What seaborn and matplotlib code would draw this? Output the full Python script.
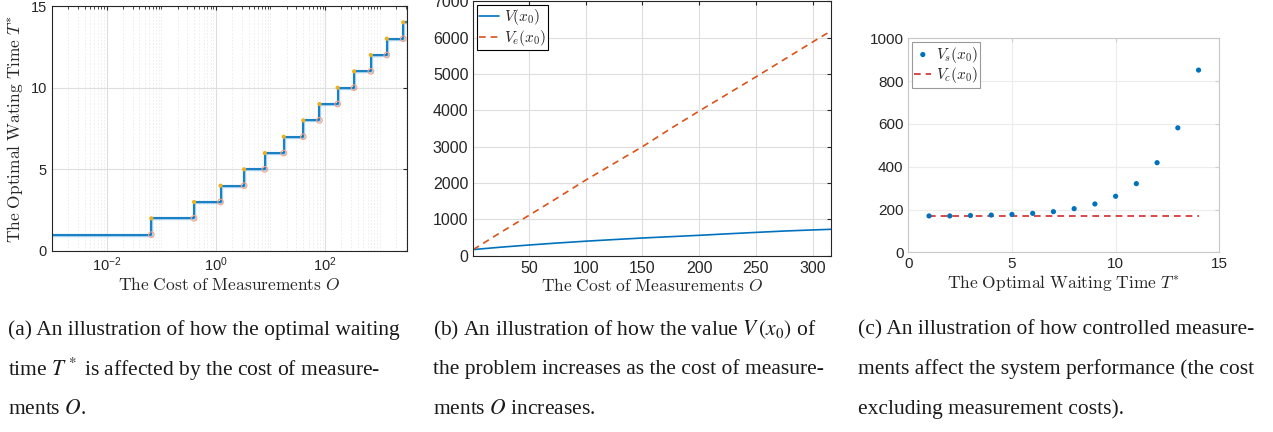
import matplotlib
matplotlib.use("Agg")
import numpy as np
import pandas as pd
import matplotlib.pyplot as plt
import seaborn as sns
from matplotlib.ticker import LogLocator, NullFormatter, FixedLocator

# (a) cost values where the optimal waiting time jumps up by one step
jump_cost = [0.066, 0.40, 1.22, 3.3, 7.9, 17.5, 40, 79, 170, 340, 690, 1350, 2700]
wait_time = [1, 2, 3, 4, 5, 6, 7, 8, 9, 10, 11, 12, 13, 14]

# (b) value of the problem vs cost of measurements
cost_b = [1, 25, 50, 75, 100, 125, 150, 175, 200, 225, 250, 275, 300, 316]
value_v = [170, 235, 295, 350, 400, 445, 488, 525, 562, 603, 642, 680, 710, 727]
value_ve = [170, 640, 1110, 1590, 2080, 2540, 3000, 3500, 3980, 4450, 4920, 5400, 5880, 6180]

# (c) performance vs optimal waiting time
t_star = [1, 2, 3, 4, 5, 6, 7, 8, 9, 10, 11, 12, 13, 14]
value_vs = [170, 170, 172, 174, 177, 182, 190, 204, 226, 262, 321, 419, 582, 852]
value_vc = [168] * 14

sns.set_style("white")
plt.rcParams["font.family"] = ["Liberation Sans", "DejaVu Sans"]
plt.rcParams["mathtext.fontset"] = "cm"
plt.rcParams["xtick.direction"] = "in"
plt.rcParams["ytick.direction"] = "in"
plt.rcParams["xtick.top"] = True
plt.rcParams["ytick.right"] = True

BLUE = "#0072BD"
ORANGE = "#D95319"
GOLD = "#EDB120"
LAB_FS = 12.5

fig = plt.figure(figsize=(12.73, 4.32), dpi=100)
ax_a = fig.add_axes([0.0408, 0.419, 0.2789, 0.567])
ax_b = fig.add_axes([0.3718, 0.408, 0.2808, 0.589])
ax_c = fig.add_axes([0.7135, 0.416, 0.2443, 0.495])

# ---- (a) stairs on log axis
lo, hi = 1e-3, 10 ** 3.5
stairs = pd.DataFrame({"O": [lo] + jump_cost + [hi],
                       "T": wait_time + [wait_time[-1]]})
sns.lineplot(data=stairs, x="O", y="T", ax=ax_a, color="#5aa9e0", lw=2.4,
             drawstyle="steps-post", estimator=None, sort=False, alpha=0.55)
sns.lineplot(data=stairs, x="O", y="T", ax=ax_a, color=BLUE, lw=1.2,
             drawstyle="steps-post", estimator=None, sort=False)
tops = pd.DataFrame({"O": jump_cost, "T": wait_time[1:]})
bots = pd.DataFrame({"O": jump_cost, "T": wait_time[:-1]})
sns.scatterplot(data=bots, x="O", y="T", ax=ax_a, marker="o", s=16,
                facecolor="none", edgecolor="#f5a184", linewidth=0.8, zorder=4)
sns.scatterplot(data=tops, x="O", y="T", ax=ax_a, marker="o", s=9,
                color=GOLD, edgecolor="none", zorder=5)
ax_a.set_xscale("log")
ax_a.set_xlim(lo, hi)
ax_a.set_ylim(0, 15)
ax_a.xaxis.set_major_locator(FixedLocator([1e-2, 1, 1e2]))
ax_a.xaxis.set_minor_locator(LogLocator(base=10, subs=np.arange(1, 10), numticks=100))
ax_a.xaxis.set_minor_formatter(NullFormatter())
ax_a.set_yticks([0, 5, 10, 15])
ax_a.grid(which="major", color="#dedede", lw=0.8)
ax_a.grid(which="minor", axis="x", color="#ebebeb", lw=0.6, ls=(0, (2, 2)))
ax_a.set_xlabel(r"$\mathrm{The\ Cost\ of\ Measurements}\ O$", fontsize=LAB_FS, labelpad=1)
ax_a.set_ylabel(r"$\mathrm{The\ Optimal\ Wating\ Time}\ T^{*}$", fontsize=LAB_FS, labelpad=4)

# ---- (b) value lines
dfb = pd.DataFrame({"O": cost_b, "V": value_v, "Ve": value_ve})
sns.lineplot(data=dfb, x="O", y="V", ax=ax_b, color=BLUE, lw=1.2, label=r"$V(x_0)$")
sns.lineplot(data=dfb, x="O", y="Ve", ax=ax_b, color=ORANGE, lw=1.2,
             ls=(0, (4, 3)), label=r"$V_e(x_0)$")
ax_b.set_xlim(cost_b[0], cost_b[-1])
ax_b.set_ylim(0, 7000)
ax_b.set_xticks([50, 100, 150, 200, 250, 300])
ax_b.set_yticks(range(0, 7001, 1000))
ax_b.grid(color="#dedede", lw=0.8)
ax_b.set_xlabel(r"$\mathrm{The\ Cost\ of\ Measurements}\ O$", fontsize=LAB_FS, labelpad=1)
ax_b.set_ylabel("")
leg = ax_b.legend(loc="upper left", fontsize=11, frameon=True, fancybox=False,
                  edgecolor="black", framealpha=1, borderaxespad=0.25,
                  handlelength=1.3, borderpad=0.15, labelspacing=0.05, handletextpad=0.3)
leg.get_frame().set_linewidth(0.8)

# ---- (c) scatter + constant line
dfc = pd.DataFrame({"T": t_star, "Vs": value_vs, "Vc": value_vc})
sns.scatterplot(data=dfc, x="T", y="Vs", ax=ax_c, color=BLUE, s=14,
                edgecolor="none", label=r"$V_s(x_0)$", zorder=4)
sns.lineplot(data=dfc, x="T", y="Vc", ax=ax_c, color="#d42a2a", lw=1.2,
             ls=(0, (4, 3)), label=r"$V_c(x_0)$")
ax_c.set_xlim(0, 15)
ax_c.set_ylim(0, 1000)
ax_c.set_xticks([0, 5, 10, 15])
ax_c.set_yticks(range(0, 1001, 200))
ax_c.grid(color="#ececec", lw=0.8)
ax_c.tick_params(colors="#262626", color="#d0d0d0")
for sp in ax_c.spines.values():
    sp.set_color("#c8c8c8")
ax_c.set_xlabel(r"$\mathrm{The\ Optimal\ Waiting\ Time}\ T^{*}$", fontsize=LAB_FS, labelpad=1)
ax_c.set_ylabel("")
leg = ax_c.legend(loc="upper left", fontsize=11, frameon=True, fancybox=False,
                  edgecolor="#9a9a9a", framealpha=1, borderaxespad=0.25,
                  handlelength=1.1, borderpad=0.15, labelspacing=0.05, handletextpad=0.3)
leg.get_frame().set_linewidth(0.8)

for ax in (ax_a, ax_b):
    for sp in ax.spines.values():
        sp.set_color("#262626")
        sp.set_linewidth(0.8)
    ax.tick_params(which="both", color="#262626")
for ax, fs in ((ax_a, 10.5), (ax_b, 11.5), (ax_c, 11)):
    ax.tick_params(labelsize=fs, length=3)
    ax.tick_params(which="minor", length=1.8)

# ---- captions
captions = [
    ["(a) An illustration of how the optimal waiting",
     r"time $T^*$ is affected by the cost of measure-",
     r"ments $O$."],
    [r"(b) An illustration of how the value $V\,(x_0)$ of",
     "the problem increases as the cost of measure-",
     r"ments $O$ increases."],
    ["(c) An illustration of how controlled measure-",
     "ments affect the system performance (the cost",
     "excluding measurement costs)."],
]
col_x = [8, 433, 858]
row_y = [330, 369, 409]
for cx, lines in zip(col_x, captions):
    for ry, line in zip(row_y, lines):
        fig.text(cx / 1273, 1 - ry / 432, line, fontsize=15.5, va="center", ha="left",
                 family="Liberation Serif", math_fontfamily="stix", color="#1a1a1a")

fig.savefig("out.png", dpi=100)
